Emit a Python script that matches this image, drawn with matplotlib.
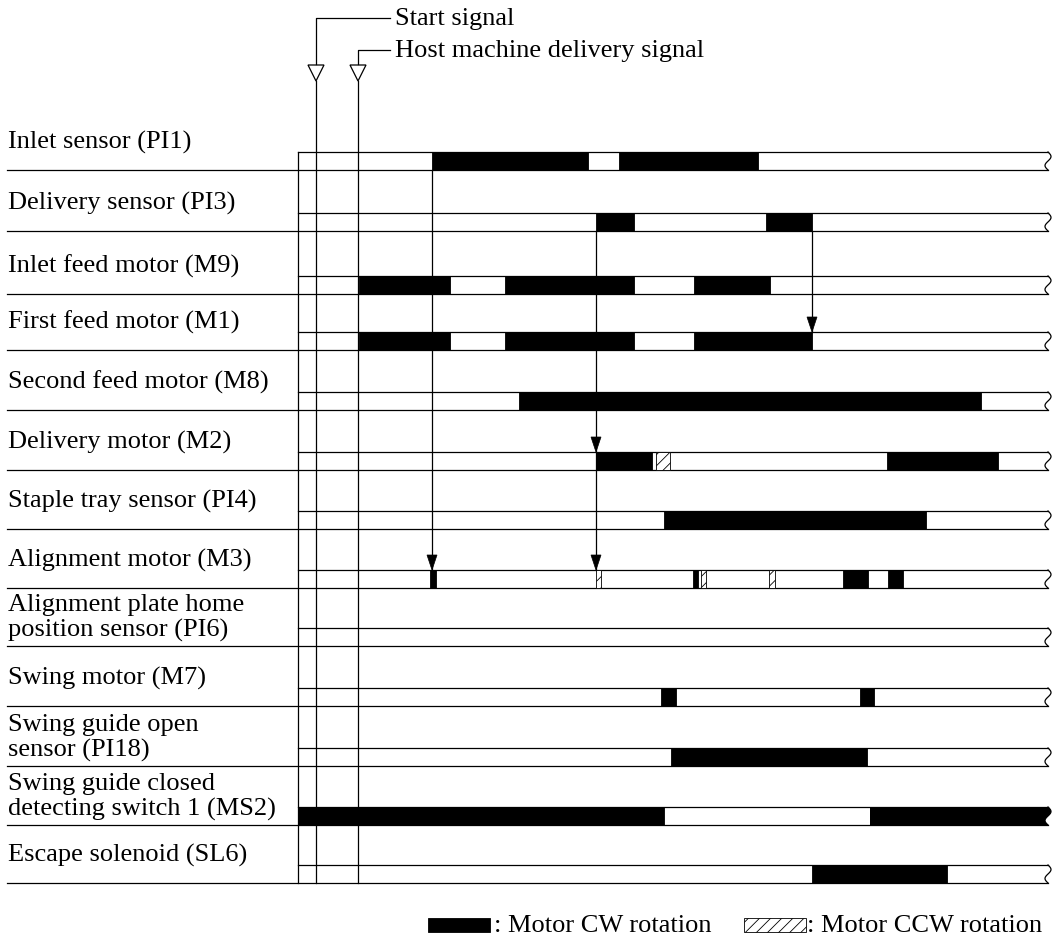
import numpy as np
import matplotlib
matplotlib.use("Agg")
import matplotlib.pyplot as plt
from matplotlib.patches import Rectangle, Polygon

plt.rcParams['font.family'] = ['Liberation Serif', 'DejaVu Serif']
plt.rcParams['hatch.linewidth'] = 0.6

# signal names, top to bottom
labels = [
    "Inlet sensor (PI1)",
    "Delivery sensor (PI3)",
    "Inlet feed motor (M9)",
    "First feed motor (M1)",
    "Second feed motor (M8)",
    "Delivery motor (M2)",
    "Staple tray sensor (PI4)",
    "Alignment motor (M3)",
    "Alignment plate home\nposition sensor (PI6)",
    "Swing motor (M7)",
    "Swing guide open\nsensor (PI18)",
    "Swing guide closed\ndetecting switch 1 (MS2)",
    "Escape solenoid (SL6)",
]

# ON / CW rotation intervals (start, end) on the time axis
cw = [
    [(432, 588), (619, 758)],
    [(596, 634), (766, 812)],
    [(359, 450), (505, 634), (694, 770)],
    [(359, 450), (505, 634), (694, 812)],
    [(519, 981)],
    [(596, 652), (887, 998)],
    [(664, 926)],
    [(430, 436), (693, 698), (843, 868), (888, 903)],
    [],
    [(661, 676), (860, 874)],
    [(671, 867)],
    [(298, 664), (870, 1048)],
    [(812, 947)],
]

# CCW rotation intervals, by row index
ccw = {
    5: [(656, 670)],
    7: [(596, 601), (701, 706), (769, 775)],
}

# timing arrows: (time, from row, [to rows])
arrows = [
    (432, 0, [7]),
    (596, 1, [5, 7]),
    (812, 1, [3]),
]

start_t = 316
host_t = 358
chart_start = 298
chart_end = 1048

# layout (figure pixels)
row_bottom = [171, 232, 295, 351, 411, 471, 530, 589, 647, 707, 767, 826, 884]
band_h = 18

fig = plt.figure(figsize=(10.54, 9.45), dpi=100)
ax = fig.add_axes([0, 0, 1, 1])
ax.set_xlim(0, 1054)
ax.set_ylim(945, 0)
ax.axis('off')

lw = 0.9


def break_curve(x, y0, y1):
    s = np.linspace(0, 1, 30)
    return x + 3 * np.sin(2 * np.pi * s), y0 + (y1 - y0) * s


# vertical reference lines
ax.plot([chart_start, chart_start], [row_bottom[0] - band_h, row_bottom[-1]], color='black', lw=lw, zorder=1)
for t in (start_t, host_t):
    ax.plot([t, t], [82, row_bottom[-1]], color='black', lw=lw, zorder=1)

# start / host signal callouts
for t, y, txt in [(start_t, 19, "Start signal"), (host_t, 51, "Host machine delivery signal")]:
    ax.plot([390, t, t], [y, y, 65], color='black', lw=lw)
    ax.add_patch(Polygon([[t - 8, 66], [t + 8, 66], [t, 82]], closed=True,
                         facecolor='white', edgecolor='black', lw=lw))
    ax.text(395, y, txt, fontsize=19, va='center', ha='left')

# rows
for i, name in enumerate(labels):
    yb = row_bottom[i]
    yt = yb - band_h
    xs, ys = break_curve(chart_end, yt, yb)
    ax.plot([7, chart_end], [yb, yb], color='black', lw=lw, zorder=1)
    ax.plot([chart_start, chart_end], [yt, yt], color='black', lw=lw, zorder=1)
    for a, b in cw[i]:
        if b >= chart_end:
            # bar running into the break mark
            ax.fill(np.r_[a, xs, a], np.r_[yt, ys, yb], color='black', lw=0, zorder=3)
        else:
            ax.add_patch(Rectangle((a, yt), b - a, band_h, facecolor='black',
                                   edgecolor='black', lw=0.6, zorder=3))
    for a, b in ccw.get(i, []):
        ax.add_patch(Rectangle((a, yt), b - a, band_h, facecolor='white',
                               edgecolor='black', hatch='///', lw=0.6, zorder=3))
    ax.plot(xs, ys, color='black', lw=lw, zorder=4)
    ax.text(8, yb - 29, name, fontsize=19, va='center', ha='left', linespacing=1.12)

# timing arrows
for t, r0, targets in arrows:
    y_end = max(row_bottom[r] - band_h for r in targets)
    ax.plot([t, t], [row_bottom[r0], y_end], color='black', lw=lw, zorder=4)
    for r in targets:
        tip = row_bottom[r] - band_h
        ax.add_patch(Polygon([[t - 5, tip - 15], [t + 5, tip - 15], [t, tip]],
                             closed=True, facecolor='black', edgecolor='black', lw=0.5, zorder=5))

# legend
ax.add_patch(Rectangle((428, 919), 62, 14, facecolor='black', edgecolor='black', lw=0.6))
ax.text(494, 926, ": Motor CW rotation", fontsize=19, va='center', ha='left')
ax.add_patch(Rectangle((744, 919), 62, 14, facecolor='white', edgecolor='black', hatch='///', lw=0.6))
ax.text(807, 926, ": Motor CCW rotation", fontsize=19, va='center', ha='left')

fig.savefig("out.png", dpi=100)
